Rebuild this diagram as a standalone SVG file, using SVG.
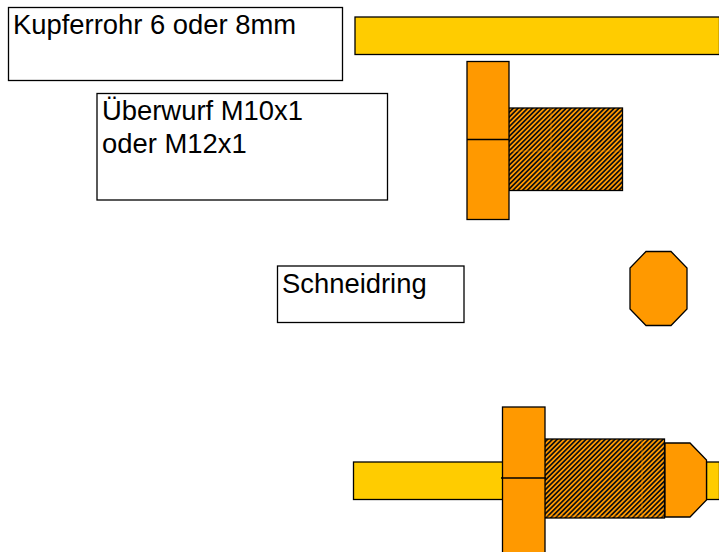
<svg xmlns="http://www.w3.org/2000/svg" width="719" height="552" viewBox="0 0 719 552">
<style>
.s{stroke:#000;stroke-width:1.3}
.box{fill:#fff}
.pipe{fill:#fc0}
.or{fill:#f90}
.h{fill:url(#hatch)}
.seam{fill:none;stroke:#000;stroke-width:1.3}
.faint{fill:none;stroke:#f90;stroke-width:.7;opacity:.7}
text{font-family:"Liberation Sans",Arial,sans-serif;font-size:27.4px;fill:#000}
</style>
<defs>
<pattern id="hatch" width="3.4" height="3.4" patternUnits="userSpaceOnUse" patternTransform="rotate(45)">
<rect width="3.4" height="3.4" fill="#f90"/>
<rect width="1.7" height="3.4" fill="#111"/>
</pattern>
</defs>
<rect width="719" height="552" fill="#fff"/>
<g id="label-kupferrohr"><rect class="box s" x="8.500" y="7.500" width="334" height="73"/><text x="13" y="34">Kupferrohr 6 oder 8mm</text></g>
<g id="label-ueberwurf"><rect class="box s" x="97" y="93.500" width="290.500" height="106.500"/><text x="102" y="120">Überwurf M10x1</text><text x="102" y="153">oder M12x1</text></g>
<g id="label-schneidring"><rect class="box s" x="277.500" y="266" width="186.500" height="56.500"/><text x="282" y="293">Schneidring</text></g>
<g id="pipe-top"><rect class="pipe s" x="355" y="17" width="364.500" height="37.500"/></g>
<g id="nut-top">
<rect class="h s" x="508.500" y="108" width="114" height="82.500"/>
<path class="faint" d="M551 108V190M509 151H622"/>
<rect class="or s" x="467" y="61.500" width="42" height="158"/>
<path class="seam" d="M467 139.500H509"/>
</g>
<g id="ring"><polygon class="or s" points="646,251.500 671,251.500 687,268 687,309 671,325.500 646,325.500 630,309 630,268"/></g>
<g id="assembly">
<rect class="pipe s" x="353.500" y="462" width="150" height="37.500"/>
<rect class="pipe s" x="706.500" y="462" width="13" height="37.500"/>
<rect class="h s" x="544.500" y="439" width="120" height="79"/>
<path class="faint" d="M642 439V518M545 516H664"/>
<polygon class="or s" points="665,443 690,443 706.500,460 706.500,500 690,517 665,517"/>
<rect class="or s" x="502.500" y="407" width="42.500" height="146"/>
<path class="seam" d="M501 478H546"/>
</g>
</svg>
